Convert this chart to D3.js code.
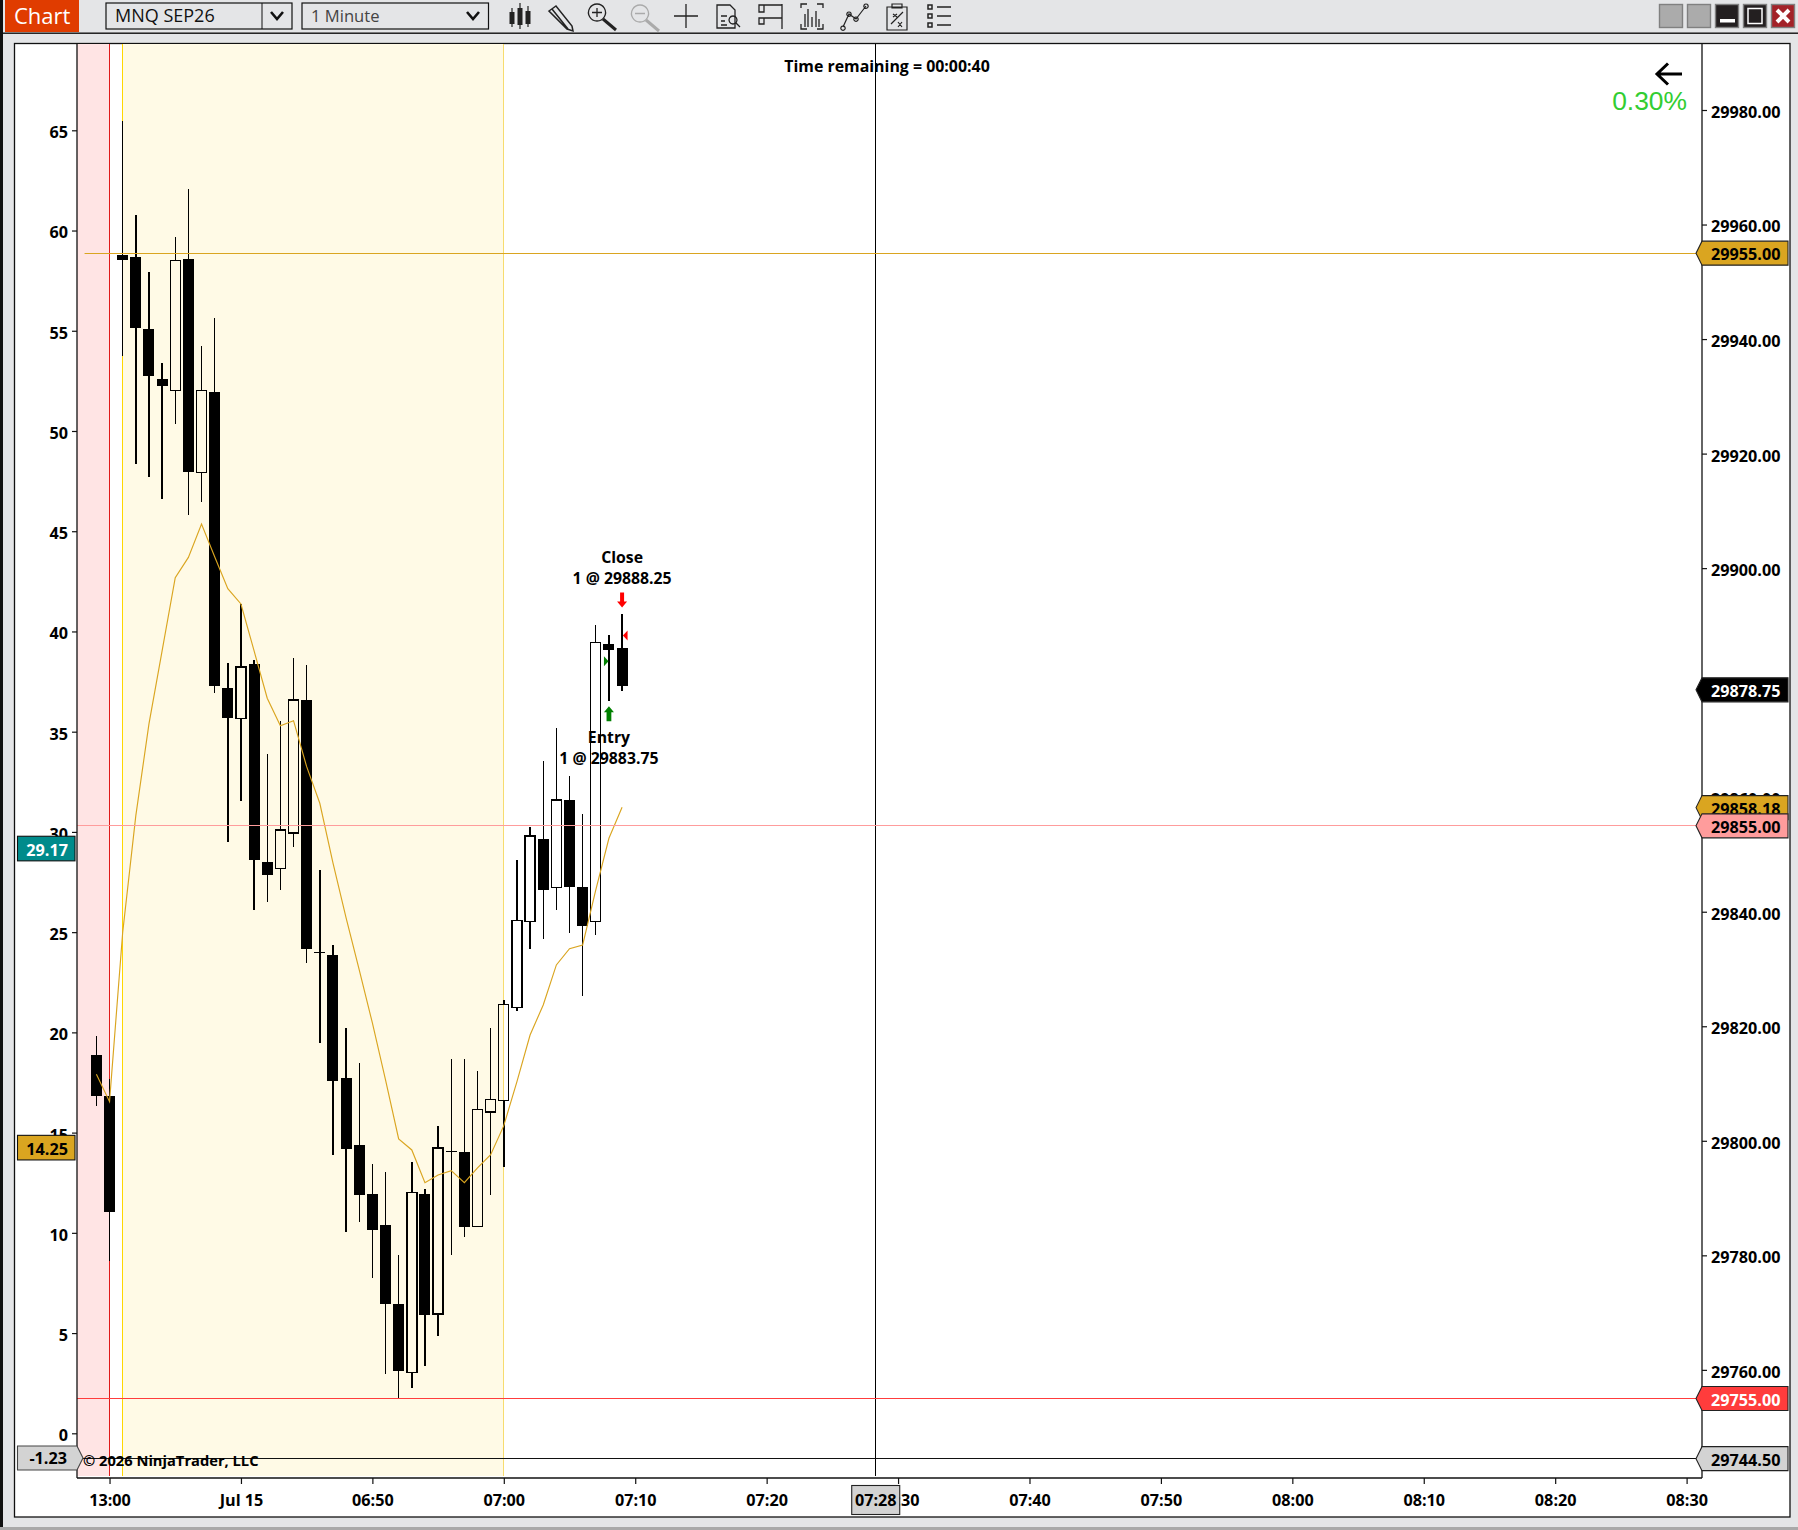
<!DOCTYPE html>
<html><head><meta charset="utf-8">
<script src="https://cdn.jsdelivr.net/npm/d3@7"></script>
<style>
html,body{margin:0;padding:0;background:#e4e5e7;overflow:hidden}
svg{display:block}
text{font-family:"Open Sans",sans-serif;font-weight:700;font-size:16.2px;fill:#000}
</style></head><body>
<script>
// ---------- data ----------
const barIndex = [-31,-30,-29,-28,-27,-26,-25,-24,-23,-22,-21,-20,-19,-18,-17,-16,-15,-14,-13,-12,-11,-10,-9,-8,-7,-6,-5,-4,-3,-2,-1,0,1,2,3,4,5,6,7,8,9];
const opens = [29815,29807.75,29954.75,29954.25,29941.75,29933,29931,29954,29916.75,29930.75,29879,29873.75,29883.25,29848.75,29847.5,29853.75,29877,29833,29832.5,29811,29799.25,29790.75,29785.25,29771.5,29759.5,29790.75,29769.75,29798.25,29798,29785,29805,29807,29823.25,29838.25,29852.75,29844.25,29859.5,29844.25,29838.25,29886.75,29886];
const highs = [29818.25,29810.75,29978,29961.75,29951.75,29935.75,29957.75,29966.25,29938.75,29943.75,29883.5,29893.75,29884,29867.5,29873.25,29884.25,29883,29847.25,29834.25,29819.75,29813.5,29796,29794.5,29780,29796.25,29791.5,29802.5,29814.25,29814.25,29812.25,29819.75,29824.5,29849,29854.75,29866.25,29872,29863.75,29857,29890,29888.25,29892];
const lows = [29806,29779,29937,29918.25,29916,29912,29925.25,29909.25,29911.5,29878.25,29852.25,29859.25,29840.25,29841.75,29843.75,29851.25,29831,29817,29797.5,29784,29785.75,29776,29759.25,29755,29756.75,29760.75,29766,29780,29783.25,29785,29790.5,29795.5,29822.75,29833.5,29835.25,29840.25,29836.25,29825.25,29836,29876.75,29878.5];
const closes = [29807.75,29787.5,29953.75,29942,29933.5,29931.75,29953.75,29916.75,29931,29879.5,29873.75,29882.75,29849,29846.5,29854.25,29877,29833.5,29833,29810.5,29798.5,29790.5,29784.5,29771.5,29759.75,29791,29769.5,29798.75,29798,29785,29805.5,29807.25,29823.75,29838.5,29853.25,29843.75,29859.5,29844.25,29837.5,29887,29885.75,29879.5];
const smaValues = [29811.62,29806.84,29836.38,29856.78,29872.81,29885.54,29898.33,29901.88,29907.71,29902,29896.41,29893.74,29885.54,29877.28,29872.49,29873.36,29865.33,29858.94,29848.52,29838.91,29829.83,29820.58,29810.63,29800.32,29798.4,29792.69,29794.04,29794.79,29792.69,29795.26,29797.58,29802.65,29810.33,29818.48,29823.72,29830.71,29833.55,29834.2,29843.8,29852.83,29858.24];

const priceTicks = [29980,29960,29940,29920,29900,29880,29860,29840,29820,29800,29780,29760];
const leftTicks = [0,5,10,15,20,25,30,35,40,45,50,55,60,65];
const timeTickBars = [-30,-20,-10,0,10,20,30,40,50,60,70,80,90];
const timeTickLabels = ["13:00","Jul 15","06:50","07:00","07:10","07:20","07:30","07:40","07:50","08:00","08:10","08:20","08:30"];

const sessionBars = {pinkEnd:-30, yellowStart:-29, yellowEnd:0};
const crossBar = 28.3, crossPrice = 29744.5, crossLeft = -1.23, crossTime = "07:28";
const entry = {bar:8, price:29883.75, title:"Entry", label:"1 @ 29883.75"};
const exit = {bar:9, price:29888.25, title:"Close", label:"1 @ 29888.25"};
const hLines = [{p:29955,c:"#daa520",fromBar:-31.9},{p:29855,c:"#ff9c9c",fromBar:null},{p:29755,c:"#ff3c3c",fromBar:null}];
const rightLabels = [
 {p:29955,t:"29955.00",f:"#daa520",tc:"#000"},
 {p:29878.75,t:"29878.75",f:"#000",tc:"#fff"},
 {p:29858.18,t:"29858.18",f:"#daa520",tc:"#000"},
 {p:29855,t:"29855.00",f:"#ff9c9c",tc:"#000"},
 {p:29755,t:"29755.00",f:"#ff3c3c",tc:"#fff"},
 {p:29744.5,t:"29744.50",f:"#d3d3d3",tc:"#000"}];
const leftLabels = [{v:29.17,t:"29.17",f:"#008b8b",tc:"#fff"},{v:14.25,t:"14.25",f:"#daa520",tc:"#000"}];

// ---------- layout ----------
const W=1798,H=1530,L=77,R=1702,T=44,B=1478;
const svg=d3.select("body").append("svg").attr("width",W).attr("height",H);
const x=d3.scaleLinear().domain([0,90]).range([503.8,1686.6]);
const yP=d3.scaleLinear().domain([29980,29755]).range([110,1398.5]);
const yL=d3.scaleLinear().domain([0,65]).range([1433.3,130.3]);
const snap=v=>Math.round(v-.5)+.5;

// window chrome
svg.append("rect").attr("width",W).attr("height",H).attr("fill","#e4e5e7");
svg.append("rect").attr("x",0).attr("y",0).attr("width",3).attr("height",H).attr("fill","#111");
svg.append("rect").attr("x",0).attr("y",1527).attr("width",W).attr("height",3).attr("fill","#a9a9a9");
svg.append("rect").attr("x",3).attr("y",32.5).attr("width",W-3).attr("height",1.4).attr("fill","#111");
svg.append("rect").attr("x",14.5).attr("y",43.5).attr("width",1775.5).attr("height",1473.5).attr("fill","#fff").attr("stroke","#111").attr("stroke-width",1.3);

// toolbar
svg.append("rect").attr("x",5).attr("y",0).attr("width",74).attr("height",32).attr("fill","#e03c00");
svg.append("text").attr("x",14).attr("y",24).text("Chart").style("font-size","22px").style("font-weight",400).style("fill","#fff");
function combo(x0,x1,label,tx,col,sep,chev,fs){
  svg.append("rect").attr("x",x0).attr("y",3).attr("width",x1-x0).attr("height",26).attr("fill","#e4e5e7").attr("stroke","#111").attr("stroke-width",1.2);
  if(sep) svg.append("line").attr("x1",sep).attr("x2",sep).attr("y1",3).attr("y2",29).attr("stroke","#111").attr("stroke-width",1);
  svg.append("text").attr("x",tx).attr("y",22).text(label).style("font-size",fs+"px").style("font-weight",400).style("fill",col);
  svg.append("path").attr("d",`M${chev-6} 12 L${chev} 19 L${chev+6} 12`).attr("fill","none").attr("stroke","#111").attr("stroke-width",2.6);
}
combo(106,292,"MNQ SEP26",115,"#111",262,277,18);
combo(302,488.5,"1 Minute",311,"#444",null,473,16.6);
const iconStroke={fill:"none",stroke:"#222","stroke-width":1.3};
function ic(d,o={}){const p=svg.append("path").attr("d",d);Object.entries({...iconStroke,...o}).forEach(([k,v])=>p.attr(k,v));return p;}
// candles
ic("M512 8V27M520 3V29M528 6V27",{"stroke-width":1.2});
[[509.5,12,5,12],[517.5,8,5,17],[525.5,11,5,13]].forEach(r=>svg.append("rect").attr("x",r[0]).attr("y",r[1]).attr("width",r[2]).attr("height",r[3]).attr("fill","#222"));
// pencil
ic("M549 11L556 6L572 26L573 31L567 29Z M552 9L568 29",{"stroke-width":1.5});
// zoom in / out
ic("M597 4a8.5 8.5 0 1 0 .01 0M592 12.5H602M597 8V17");
ic("M603 19L616 30",{"stroke-width":3});
ic("M640 5a8.5 8.5 0 1 0 .01 0M635 13.5H645",{stroke:"#aaa"});
ic("M646 20L659 31",{stroke:"#aaa","stroke-width":3});
// crosshair
ic("M674 16H698M686 4V28");
// properties
ic("M717 5H730L735 10V28H717ZM721 16H727M721 21H725M721 25H727");
ic("M733 16a4 4 0 1 0 .01 0M736 23L740 27");
// templates
ic("M759 5H782M782 4V29M759 18H782M759 5H764V12H759ZM759 18H764V24H759Z");
// bar chart frames
ic("M801 8V4H807M817 4H823V8M801 24V29H807M817 29H823V24M805 27V14M808 27V9M812 27V17M816 27V11M819 27V19");
// drawing line
ic("M843 27L849 14L856 19L866 6M843 26a2.2 2.2 0 1 0 .01 0M849 12a2.2 2.2 0 1 0 .01 0M856 17a2.2 2.2 0 1 0 .01 0M866 4a2.2 2.2 0 1 0 .01 0",{"stroke-width":1.2});
// formula
ic("M887 7H907V30H887ZM892 4H902V8H892ZM891 24L903 12M893 14L897 17M897 14L893 17M898 22L902 27M902 22L898 27",{"stroke-width":1.2});
// list
ic("M928 5H932V9H928ZM928 14H932V18H928ZM928 23H932V27H928ZM937 7H951M937 16H951M937 25H951",{"stroke-width":1.5});
// window buttons
[[1659,"g"],[1687,"g"],[1715,"min"],[1743,"max"],[1771,"x"]].forEach(([bx,k])=>{
  const f=k==="g"?"#ababab":k==="x"?"#a32228":"#231f20";
  svg.append("rect").attr("x",bx+.5).attr("y",4.5).attr("width",23).attr("height",23).attr("fill",f).attr("stroke","#808080").attr("stroke-width",1.4);
  if(k==="min") svg.append("rect").attr("x",bx+5).attr("y",19).attr("width",15).attr("height",3.5).attr("fill","#fff");
  if(k==="max") svg.append("rect").attr("x",bx+5).attr("y",8.5).attr("width",14).attr("height",15).attr("fill","none").attr("stroke","#fff").attr("stroke-width",1.5);
  if(k==="x") svg.append("path").attr("d",`M${bx+6} 10L${bx+18} 22M${bx+18} 10L${bx+6} 22`).attr("stroke","#fff").attr("stroke-width",4);
});

// session backgrounds
svg.append("rect").attr("x",L).attr("y",T).attr("width",x(sessionBars.pinkEnd)-L).attr("height",1476-T).attr("fill","#ffe4e4");
svg.append("rect").attr("x",x(sessionBars.yellowStart)).attr("y",T).attr("width",x(sessionBars.yellowEnd)-x(sessionBars.yellowStart)).attr("height",1476-T).attr("fill","#fffae6");
const vl=(b,c,w)=>svg.append("line").attr("x1",snap(x(b))).attr("x2",snap(x(b))).attr("y1",T).attr("y2",1476).attr("stroke",c).attr("stroke-width",w);
vl(sessionBars.pinkEnd,"#e01a1a",1);
vl(sessionBars.yellowStart,"#ffd700",1);
vl(sessionBars.yellowEnd,"#f7dc6f",1);

// crosshair vertical
svg.append("line").attr("x1",snap(x(crossBar))).attr("x2",snap(x(crossBar))).attr("y1",T).attr("y2",1476).attr("stroke","#000").attr("stroke-width",1);

// candles
const rows=barIndex.map((b,i)=>({b,o:opens[i],h:highs[i],l:lows[i],c:closes[i]}));
const gC=svg.append("g").attr("shape-rendering","crispEdges");
const cg=gC.selectAll("g").data(rows).join("g");
cg.each(function(d){
  const g=d3.select(this),cx=x(d.b),top=Math.max(d.o,d.c),bot=Math.min(d.o,d.c),up=d.c>d.o;
  g.append("line").attr("x1",cx).attr("x2",cx).attr("y1",yP(d.h)).attr("y2",yP(top)).attr("stroke","#000").attr("stroke-width",1.4);
  g.append("line").attr("x1",cx).attr("x2",cx).attr("y1",yP(bot)).attr("y2",yP(d.l)).attr("stroke","#000").attr("stroke-width",1.4);
  const h=Math.max(yP(bot)-yP(top),1.6);
  if(up) g.append("rect").attr("x",cx-5).attr("y",yP(top)).attr("width",10).attr("height",h).attr("fill","none").attr("stroke","#000").attr("stroke-width",1.4);
  else g.append("rect").attr("x",cx-5.5).attr("y",yP(top)).attr("width",11).attr("height",h).attr("fill","#000");
});

// SMA
svg.append("path").datum(smaValues).attr("fill","none").attr("stroke","#daa520").attr("stroke-width",1.15)
  .attr("d",d3.line().x((d,i)=>x(barIndex[i])).y(d=>yP(d)));

// horizontal lines
hLines.forEach(l=>svg.append("line").attr("x1",l.fromBar===null?L:x(l.fromBar)).attr("x2",R).attr("y1",snap(yP(l.p))).attr("y2",snap(yP(l.p))).attr("stroke",l.c).attr("stroke-width",1));
svg.append("line").attr("x1",L).attr("x2",R).attr("y1",snap(yP(crossPrice))).attr("y2",snap(yP(crossPrice))).attr("stroke","#111").attr("stroke-width",1);

// axes
function styleAxis(g){g.select(".domain").attr("stroke","#111").attr("stroke-width",1.3);g.selectAll(".tick line").attr("stroke","#111").attr("stroke-width",1.2);g.selectAll("text").style("font-family",'"Open Sans",sans-serif').style("font-size","16.2px").style("font-weight",700).attr("fill","#000");}
const axR=svg.append("g").attr("transform",`translate(${R},0)`).call(d3.axisRight(yP).tickValues(priceTicks).tickFormat(d3.format(".2f")).tickSize(5).tickPadding(4));
axR.select(".domain").attr("d",`M0,${T}V${B}`);
styleAxis(axR);axR.selectAll("text").attr("dy","0.46em");
const axL=svg.append("g").attr("transform",`translate(${L},0)`).call(d3.axisLeft(yL).tickValues(leftTicks).tickSize(5).tickPadding(4));
axL.select(".domain").attr("d",`M0,${T}V${B}`);
styleAxis(axL);axL.selectAll("text").attr("dy","0.46em");
const axB=svg.append("g").attr("transform",`translate(0,${B})`).call(d3.axisBottom(x).tickValues(timeTickBars).tickFormat((d,i)=>timeTickLabels[i]).tickSize(6).tickPadding(10));
axB.select(".domain").attr("d",`M${L},0H${R}`);
styleAxis(axB);

// right-hand price labels
rightLabels.forEach(l=>{
  const y=yP(l.p);
  svg.append("path").attr("d",`M1696 ${y}L1702 ${y-12}H1788V${y+12}H1702Z`).attr("fill",l.f).attr("stroke","#222").attr("stroke-width",1.1);
  svg.append("text").attr("x",1711).attr("y",y+7).text(l.t).style("fill",l.tc);
});
// left-hand labels
leftLabels.forEach(l=>{
  const y=yL(l.v);
  svg.append("rect").attr("x",17.5).attr("y",y-12.3).attr("width",57.5).attr("height",24.6).attr("fill",l.f).attr("stroke","#111").attr("stroke-width",1.1);
  svg.append("text").attr("x",68).attr("y",y+7).attr("text-anchor","end").text(l.t).style("fill",l.tc);
});
{
  const y=yL(crossLeft);
  svg.append("path").attr("d",`M17.5 ${y-12}H77L83 ${y}L77 ${y+12}H17.5Z`).attr("fill","#d3d3d3").attr("stroke","#444").attr("stroke-width",1.1);
  svg.append("text").attr("x",67).attr("y",y+6).attr("text-anchor","end").text(crossLeft.toFixed(2));
}
// crosshair time label
svg.append("rect").attr("x",x(crossBar)-24).attr("y",1485.5).attr("width",48).attr("height",29).attr("fill","#d3d3d3").attr("stroke","#222").attr("stroke-width",1.1);
svg.append("text").attr("x",x(crossBar)).attr("y",1506).attr("text-anchor","middle").text(crossTime);

// trade markers
const tri=(bar,price,dir,c)=>{const cx=x(bar),y=yP(price);
  const d=dir>0?`M${cx-5} ${y-5}L${cx-.4} ${y}L${cx-5} ${y+5}Z`:`M${cx+.8} ${y}L${cx+5.5} ${y-5}V${y+5}Z`;
  svg.append("path").attr("d",d).attr("fill",c);};
tri(entry.bar,entry.price,1,"#008000");
tri(exit.bar,exit.price,-1,"#ff0000");
{
  const cx=x(exit.bar), y0=yP(exit.price)-43;
  svg.append("path").attr("d",`M${cx-2} ${y0}H${cx+2}V${y0+9}H${cx+5}L${cx} ${y0+15}L${cx-5} ${y0+9}H${cx-2}Z`).attr("fill","#ff0000");
  const gx=x(entry.bar), g0=yP(entry.price)+45;
  svg.append("path").attr("d",`M${gx-2.4} ${g0+15}H${gx+2.4}V${g0+6}H${gx+5}L${gx} ${g0}L${gx-5} ${g0+6}H${gx-2.4}Z`).attr("fill","#008000");
  const small=s=>s.style("font-size","15.8px");
  small(svg.append("text").attr("x",x(exit.bar)).attr("y",562.5).attr("text-anchor","middle").text(exit.title));
  small(svg.append("text").attr("x",x(exit.bar)).attr("y",583.5).attr("text-anchor","middle").text(exit.label));
  small(svg.append("text").attr("x",x(entry.bar)).attr("y",743).attr("text-anchor","middle").text(entry.title));
  small(svg.append("text").attr("x",x(entry.bar)).attr("y",764).attr("text-anchor","middle").text(entry.label));
}

// overlays
svg.append("text").attr("x",887).attr("y",72).attr("text-anchor","middle").text("Time remaining = 00:00:40").style("font-size","15.9px");
svg.append("text").attr("x",83).attr("y",1466).text("© 2026 NinjaTrader, LLC").style("font-size","14.7px");
svg.append("path").attr("d","M1682 74H1657M1668 63.5L1657 74L1668 84.5").attr("fill","none").attr("stroke","#000").attr("stroke-width",3);
svg.append("text").attr("x",1687).attr("y",109.5).attr("text-anchor","end").text("0.30%").style("font-family",'"Liberation Sans",sans-serif').style("font-weight",400).style("font-size","26.4px").style("fill","#32cd32");
</script>
</body></html>
